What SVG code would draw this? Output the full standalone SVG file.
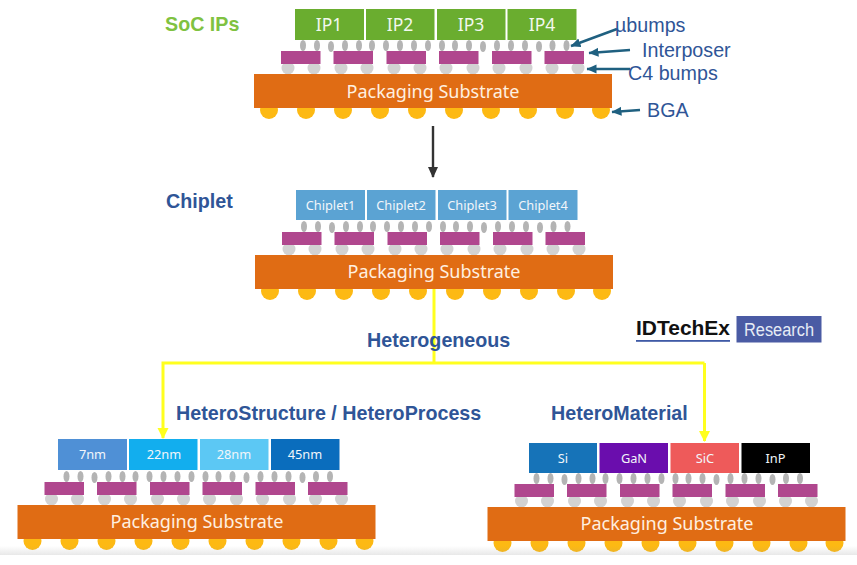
<svg xmlns="http://www.w3.org/2000/svg" xmlns:xlink="http://www.w3.org/1999/xlink" width="857" height="565" viewBox="0 0 857 565">
<style>
text{font-family:"Noto Sans","Open Sans","Liberation Sans",sans-serif}
.sub{fill:#e06c14}
.subt{fill:#fff0e0;font-size:18px;text-anchor:middle}
.int{fill:#b0478e}
.c4{fill:#d2d2d2}
.ub{fill:#b4b4b4}
.bga{fill:#fdb913}
.chipt{fill:#f2f6fa;font-size:12.8px;text-anchor:middle}
.ipt{fill:#f2f8ee;font-size:17.5px;text-anchor:middle}
.head{font-family:"Liberation Sans",Arial,sans-serif;font-weight:700;font-size:19.7px;fill:#2f5597}
.ann{font-family:"Liberation Sans",Arial,sans-serif;font-size:19.7px;fill:#2f5597}
.lead{stroke:#1f6080;stroke-width:2.5;fill:none;marker-end:url(#lh)}
.yel{stroke:#ffff1e;stroke-width:3;fill:none}
</style>
<defs>
<linearGradient id="fade" x1="0" y1="0" x2="0" y2="1"><stop offset="0" stop-color="#999" stop-opacity="0"/><stop offset="1" stop-color="#999" stop-opacity=".22"/></linearGradient>
<marker id="lh" markerWidth="11" markerHeight="10" refX="9.500" refY="4.500" orient="auto" markerUnits="userSpaceOnUse"><path d="M0 0L10 4.500L0 9Z" fill="#1f6080"/></marker>
<marker id="ya" markerWidth="14" markerHeight="12" refX="10" refY="5.500" orient="auto" markerUnits="userSpaceOnUse"><path d="M0 0L11 5.500L0 11Z" fill="#ffff1e"/></marker>
<marker id="ka" markerWidth="14" markerHeight="12" refX="10" refY="5" orient="auto" markerUnits="userSpaceOnUse"><path d="M0 0L11 5L0 10Z" fill="#333"/></marker>
<g id="pkg">
<g class="ub">
<ellipse cx="303" cy="45.500" rx="3" ry="5.500"/><ellipse cx="317" cy="45.500" rx="3" ry="5.500"/><ellipse cx="331" cy="46.500" rx="3" ry="5.500"/><ellipse cx="345" cy="45.500" rx="3" ry="5.500"/><ellipse cx="359" cy="45.500" rx="3" ry="5.500"/><ellipse cx="372" cy="45.500" rx="3" ry="5.500"/><ellipse cx="386" cy="45.500" rx="3" ry="5.500"/><ellipse cx="400" cy="45.500" rx="3" ry="5.500"/><ellipse cx="414" cy="45.500" rx="3" ry="5.500"/><ellipse cx="428" cy="45.500" rx="3" ry="5.500"/><ellipse cx="442" cy="45.500" rx="3" ry="5.500"/><ellipse cx="455" cy="45.500" rx="3" ry="5.500"/><ellipse cx="469" cy="45.500" rx="3" ry="5.500"/><ellipse cx="483" cy="46.500" rx="3" ry="5.500"/><ellipse cx="497" cy="45.500" rx="3" ry="5.500"/><ellipse cx="511" cy="45.500" rx="3" ry="5.500"/><ellipse cx="525" cy="45.500" rx="3" ry="5.500"/><ellipse cx="539" cy="46.500" rx="3" ry="5.500"/><ellipse cx="552.500" cy="45.500" rx="3" ry="5.500"/><ellipse cx="566.500" cy="45.500" rx="3" ry="5.500"/>
</g>
<g class="c4">
<circle cx="288" cy="68" r="6.500"/><circle cx="314" cy="68" r="6.500"/><circle cx="341" cy="68" r="6.500"/><circle cx="367" cy="68" r="6.500"/><circle cx="394" cy="68" r="6.500"/><circle cx="420" cy="68" r="6.500"/><circle cx="446" cy="68" r="6.500"/><circle cx="473" cy="68" r="6.500"/><circle cx="499" cy="68" r="6.500"/><circle cx="526" cy="68" r="6.500"/><circle cx="552" cy="68" r="6.500"/><circle cx="578" cy="68" r="6.500"/>
</g>
<g class="int">
<rect x="281" y="51" width="39.500" height="13"/><rect x="333.500" y="51" width="39.500" height="13"/><rect x="386.500" y="51" width="39.500" height="13"/><rect x="439" y="51" width="39.500" height="13"/><rect x="492" y="51" width="39.500" height="13"/><rect x="544.500" y="51" width="39.500" height="13"/>
</g>
<g class="bga">
<circle cx="269" cy="110" r="9"/><circle cx="306" cy="110" r="9"/><circle cx="343" cy="110" r="9"/><circle cx="380" cy="110" r="9"/><circle cx="417" cy="110" r="9"/><circle cx="454" cy="110" r="9"/><circle cx="491" cy="110" r="9"/><circle cx="528" cy="110" r="9"/><circle cx="565" cy="110" r="9"/><circle cx="601" cy="110" r="9"/>
</g>
<rect class="sub" x="254" y="74" width="358" height="34"/>
</g>
</defs>
<rect width="857" height="565" fill="#fff"/>

<g id="connectors">
<path d="M433 126V177" stroke="#333" stroke-width="2.400" fill="none" marker-end="url(#ka)"/>
<path class="yel" d="M434 289V363"/>
<path class="yel" d="M704.500 363H163V438" marker-end="url(#ya)"/>
<path class="yel" d="M704.500 363V441" marker-end="url(#ya)"/>
<path class="lead" d="M617 29L571 46"/>
<path class="lead" d="M630 50L589 53"/>
<path class="lead" d="M630 69L587 69"/>
<path class="lead" d="M640 110L612 112"/>
</g>

<g id="soc-stack">
<use xlink:href="#pkg" href="#pkg"/>
<text class="subt" x="433" y="97.500">Packaging Substrate</text>
<g id="ip1"><rect x="295" y="9" width="69" height="31" fill="#6aad2f"/><text class="ipt" x="329" y="30.500">IP1</text></g>
<g id="ip2"><rect x="366" y="9" width="68.500" height="31" fill="#6aad2f"/><text class="ipt" x="400" y="30.500">IP2</text></g>
<g id="ip3"><rect x="437" y="9" width="68.500" height="31" fill="#6aad2f"/><text class="ipt" x="471" y="30.500">IP3</text></g>
<g id="ip4"><rect x="507.500" y="9" width="69" height="31" fill="#6aad2f"/><text class="ipt" x="542" y="30.500">IP4</text></g>
</g>

<g id="chiplet-stack">
<use xlink:href="#pkg" href="#pkg" x="1" y="181"/>
<text class="subt" x="434" y="278">Packaging Substrate</text>
<g id="chiplet1"><rect x="296" y="190" width="69" height="30" fill="#5ba3d3"/><text class="chipt" x="330.500" y="209.500">Chiplet1</text></g>
<g id="chiplet2"><rect x="367" y="190" width="68.500" height="30" fill="#5ba3d3"/><text class="chipt" x="401" y="209.500">Chiplet2</text></g>
<g id="chiplet3"><rect x="438" y="190" width="68.500" height="30" fill="#5ba3d3"/><text class="chipt" x="472" y="209.500">Chiplet3</text></g>
<g id="chiplet4"><rect x="508.500" y="190" width="69" height="30" fill="#5ba3d3"/><text class="chipt" x="543" y="209.500">Chiplet4</text></g>
</g>

<g id="process-stack">
<use xlink:href="#pkg" href="#pkg" x="-236.500" y="431"/>
<text class="subt" x="197" y="528">Packaging Substrate</text>
<g id="n7"><rect x="58" y="439" width="69" height="31" fill="#4f90d6"/><text class="chipt" x="92.500" y="459">7nm</text></g>
<g id="n22"><rect x="129" y="439" width="68.500" height="31" fill="#12aeee"/><text class="chipt" x="164" y="459">22nm</text></g>
<g id="n28"><rect x="200" y="439" width="68.500" height="31" fill="#5cc8f4"/><text class="chipt" x="234" y="459">28nm</text></g>
<g id="n45"><rect x="271" y="439" width="68.500" height="31" fill="#0a6dbd"/><text class="chipt" x="305" y="459">45nm</text></g>
</g>

<g id="material-stack">
<use xlink:href="#pkg" href="#pkg" x="233.500" y="433"/>
<text class="subt" x="667" y="530">Packaging Substrate</text>
<g id="si"><rect x="529" y="443" width="68" height="30" fill="#1673b8"/><text class="chipt" x="563" y="462.500">Si</text></g>
<g id="gan"><rect x="599.500" y="443" width="68.500" height="30" fill="#6a0dad"/><text class="chipt" x="634" y="462.500">GaN</text></g>
<g id="sic"><rect x="670.500" y="443" width="68.500" height="30" fill="#ee5a5a"/><text class="chipt" x="705" y="462.500">SiC</text></g>
<g id="inp"><rect x="741.500" y="443" width="68.500" height="30" fill="#000"/><text class="chipt" x="775.500" y="462.500">InP</text></g>
</g>

<rect x="0" y="546" width="857" height="9" fill="url(#fade)"/>

<g id="labels">
<text class="head" x="165" y="31" style="fill:#7fc241">SoC IPs</text>
<text class="head" x="166" y="208">Chiplet</text>
<text class="head" x="367" y="347">Heterogeneous</text>
<text class="head" x="176" y="420">HeteroStructure / HeteroProcess</text>
<text class="head" x="551" y="420">HeteroMaterial</text>
<text class="ann" x="615" y="32">µbumps</text>
<text class="ann" x="642" y="57">Interposer</text>
<text class="ann" x="628" y="80">C4 bumps</text>
<text class="ann" x="647" y="117">BGA</text>
</g>

<g id="logo">
<text x="636" y="334.500" style="font-family:'Liberation Sans',Arial,sans-serif;font-weight:700;font-size:19.500px;fill:#111" textLength="94" lengthAdjust="spacingAndGlyphs">IDTechEx</text>
<rect x="636" y="340" width="94" height="1.800" fill="#3f5aa6"/>
<rect x="736.500" y="316" width="85" height="26.500" fill="#4a5ba4"/>
<text x="744" y="336" style="font-family:'Liberation Sans',Arial,sans-serif;font-size:18px;fill:#e6ebf5" textLength="70" lengthAdjust="spacingAndGlyphs">Research</text>
</g>
</svg>
